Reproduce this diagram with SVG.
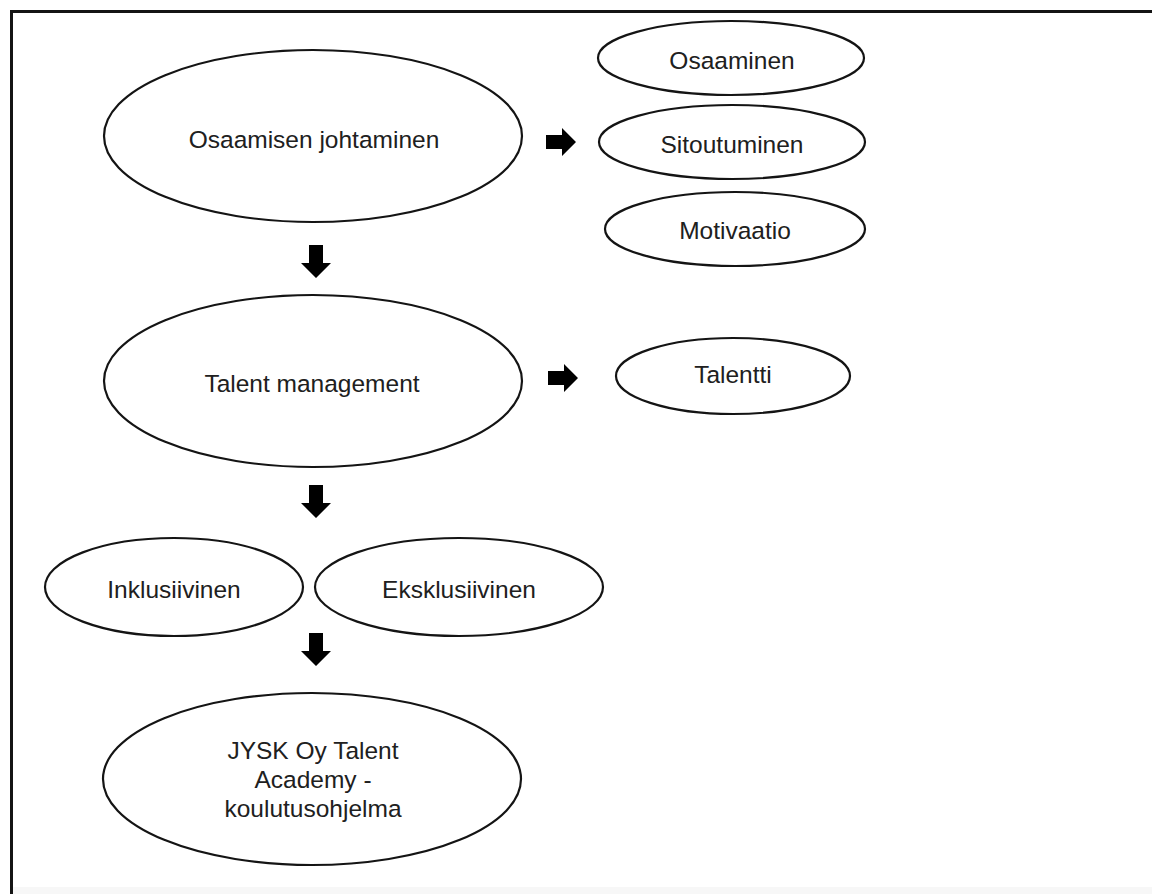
<svg xmlns="http://www.w3.org/2000/svg" width="1152" height="894" viewBox="0 0 1152 894">
<defs>
<style>
.n{fill:#fff;stroke:#141414;stroke-width:2.2}
.t{font-family:"Liberation Sans",Arial,sans-serif;font-size:24.5px;fill:#202020;text-anchor:middle}
.a{fill:#000}
.frame{fill:none;stroke:#141414;stroke-width:3}
</style>
<path id="down" d="M-7,0 H7 V18 H15 L0,33 L-15,18 H-7 Z"/>
<path id="right" d="M0,-7 H16 V-14 L30,0 L16,14 V7 H0 Z"/>
</defs>
<rect width="1152" height="894" fill="#fff"/>
<rect x="12" y="887" width="1140" height="7" fill="#f7f7f7"/>
<path class="frame" d="M11.5,894 V11.5 H1152"/>

<g id="connectors" class="a">
<use href="#down" x="316" y="245"/>
<use href="#down" x="316" y="485"/>
<use href="#down" x="316" y="633"/>
<use href="#right" x="546" y="142"/>
<use href="#right" x="548" y="378"/>
</g>

<g id="osaamisen-johtaminen">
<ellipse class="n" cx="313" cy="136" rx="209" ry="86"/>
<text class="t" x="314" y="148">Osaamisen johtaminen</text>
</g>
<g id="osaaminen">
<ellipse class="n" cx="731" cy="58" rx="133" ry="37"/>
<text class="t" x="732" y="69">Osaaminen</text>
</g>
<g id="sitoutuminen">
<ellipse class="n" cx="732" cy="142" rx="133" ry="37"/>
<text class="t" x="732" y="153">Sitoutuminen</text>
</g>
<g id="motivaatio">
<ellipse class="n" cx="735" cy="229" rx="130" ry="37"/>
<text class="t" x="735" y="239">Motivaatio</text>
</g>
<g id="talent-management">
<ellipse class="n" cx="313" cy="381" rx="209" ry="86"/>
<text class="t" x="312" y="392">Talent management</text>
</g>
<g id="talentti">
<ellipse class="n" cx="733" cy="376" rx="117" ry="38"/>
<text class="t" x="733" y="383">Talentti</text>
</g>
<g id="inklusiivinen">
<ellipse class="n" cx="174" cy="587" rx="129" ry="49"/>
<text class="t" x="174" y="598">Inklusiivinen</text>
</g>
<g id="eksklusiivinen">
<ellipse class="n" cx="459" cy="587" rx="144" ry="49"/>
<text class="t" x="459" y="598">Eksklusiivinen</text>
</g>
<g id="jysk">
<ellipse class="n" cx="312" cy="779" rx="209" ry="86"/>
<text class="t" x="313" y="759">JYSK Oy Talent</text>
<text class="t" x="313" y="788">Academy -</text>
<text class="t" x="313" y="817">koulutusohjelma</text>
</g>
</svg>
